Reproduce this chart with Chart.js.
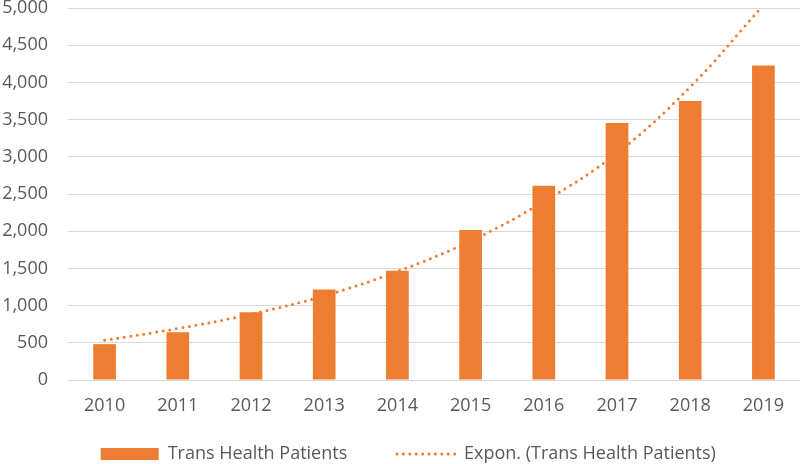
<!DOCTYPE html>
<html>
<head>
<meta charset="utf-8">
<script src="https://cdn.jsdelivr.net/npm/chart.js@4/dist/chart.umd.min.js"></script>
<style>
  html, body { margin: 0; padding: 0; background: #fff; }
  canvas { display: block; }
</style>
</head>
<body>
<canvas id="chart" width="800" height="464"></canvas>
<script>
// Data
const years = ['2010', '2011', '2012', '2013', '2014', '2015', '2016', '2017', '2018', '2019'];
const patients = [482, 643, 912, 1217, 1469, 2017, 2610, 3455, 3751, 4228];
// exponential trendline, read at each category centre
const trend = [535, 692, 885, 1132, 1460, 1869, 2399, 3050, 3940, 5040];
const yMin = 0;
const yMax = 5000;
const yStep = 500;

const orange = '#ED7D31';
const textGray = '#595959';
const gridGray = '#D9D9D9';
const fontFamily = '"Open Sans", "Noto Sans", sans-serif';

const ctx = document.getElementById('chart').getContext('2d');

new Chart(ctx, {
    type: 'bar',
    data: {
        labels: years,
        datasets: [
            {
                label: 'Trans Health Patients',
                data: patients,
                backgroundColor: orange,
                barPercentage: 0.31,
                categoryPercentage: 1,
                order: 1
            },
            {
                type: 'line',
                label: 'Expon. (Trans Health Patients)',
                data: trend,
                borderColor: orange,
                borderWidth: 3,
                borderDash: [0, 6.6],
                borderCapStyle: 'round',
                pointRadius: 0,
                tension: 0.4,
                fill: false,
                clip: 0,
                order: 0
            }
        ]
    },
    options: {
        responsive: false,
        animation: false,
        layout: { autoPadding: false, padding: { top: 8, right: 0, left: 0, bottom: -9 } },
        plugins: {
            tooltip: { enabled: false },
            legend: {
                position: 'bottom',
                fullSize: false,
                labels: {
                    color: textGray,
                    font: { family: fontFamily, size: 18 },
                    usePointStyle: true,
                    pointStyleWidth: 58,
                    boxHeight: 12,
                    padding: 3,
                    generateLabels: () => [
                        {
                            text: 'Trans Health Patients' + '\u00a0'.repeat(10),
                            fillStyle: orange,
                            strokeStyle: orange,
                            lineWidth: 0,
                            pointStyle: 'rect',
                            fontColor: textGray,
                            datasetIndex: 0
                        },
                        {
                            // trailing spaces pull the centred legend left
                            text: 'Expon. (Trans Health Patients)' + '\u00a0'.repeat(11),
                            fillStyle: 'rgba(0,0,0,0)',
                            strokeStyle: orange,
                            lineWidth: 3,
                            lineDash: [0, 6.4],
                            lineCap: 'round',
                            pointStyle: 'line',
                            fontColor: textGray,
                            datasetIndex: 1
                        }
                    ]
                }
            }
        },
        scales: {
            x: {
                grid: { display: false },
                border: { display: false },
                ticks: {
                    color: textGray,
                    font: { family: fontFamily, size: 18 },
                    padding: 7,
                    maxRotation: 0
                },
                afterFit: (scale) => { scale.height = 62; }
            },
            y: {
                min: yMin,
                max: yMax,
                grace: 0,
                grid: { color: gridGray, lineWidth: 1, drawTicks: true, tickLength: 20, tickColor: 'rgba(0,0,0,0)' },
                border: { display: false },
                ticks: {
                    stepSize: yStep,
                    color: textGray,
                    font: { family: fontFamily, size: 18, lineHeight: 0.8 },
                    padding: 0,
                    callback: (v) => Number(v).toLocaleString('en-US')
                },
                afterFit: (scale) => { scale.width = 68; }
            }
        }
    }
});
</script>
</body>
</html>
